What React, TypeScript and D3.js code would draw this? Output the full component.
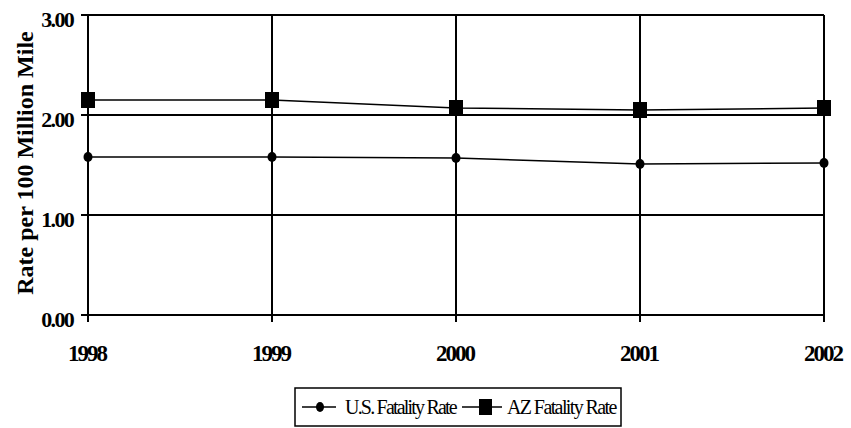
import React from 'react'
import * as d3 from 'd3'

const years = ['1998', '1999', '2000', '2001', '2002']
const usRate = [1.58, 1.58, 1.57, 1.51, 1.52]
const azRate = [2.15, 2.15, 2.07, 2.05, 2.07]
const yTicks = [0, 1, 2, 3]

const FONT = '"Liberation Serif", "Times New Roman", serif'

const App = () => {
  const x = d3.scalePoint<string>().domain(years).range([88, 824])
  const y = d3.scaleLinear().domain([0, 3]).range([315, 15])

  const line = d3
    .line<number>()
    .x((d, i) => x(years[i]) as number)
    .y(d => y(d))

  return (
    <svg
      width={851}
      height={428}
      style={{ position: 'absolute', left: 0, top: 0, background: '#fff' }}
      fontFamily={FONT}
    >
      {/* horizontal grid + ticks */}
      {yTicks.map(t => (
        <g key={t}>
          <line x1={81} x2={824} y1={y(t)} y2={y(t)} stroke="#000" strokeWidth={2} />
          <text
            x={73}
            y={y(t) + 11.5}
            textAnchor="end"
            fontSize={22}
            fontWeight="bold"
            letterSpacing={-1.7}
          >
            {d3.format('.2f')(t)}
          </text>
        </g>
      ))}

      {/* vertical grid + year labels */}
      {years.map(yr => (
        <g key={yr}>
          <line
            x1={x(yr)}
            x2={x(yr)}
            y1={y(3)}
            y2={y(0) + 7}
            stroke="#000"
            strokeWidth={2}
          />
          <text
            x={(x(yr) as number) - 1}
            y={361}
            textAnchor="middle"
            fontSize={23}
            fontWeight="bold"
            letterSpacing={-2}
          >
            {yr}
          </text>
        </g>
      ))}

      <text
        transform="translate(33,163) rotate(-90)"
        textAnchor="middle"
        fontSize={24}
        fontWeight="bold"
      >
        Rate per 100 Million Mile
      </text>

      {/* series */}
      <path d={line(usRate) || ''} fill="none" stroke="#000" strokeWidth={1.5} />
      <path d={line(azRate) || ''} fill="none" stroke="#000" strokeWidth={1.5} />
      {usRate.map((v, i) => (
        <ellipse key={'u' + i} cx={x(years[i])} cy={y(v)} rx={4.5} ry={5} fill="#000" />
      ))}
      {azRate.map((v, i) => (
        <rect
          key={'a' + i}
          x={(x(years[i]) as number) - 7}
          y={y(v) - 8}
          width={14}
          height={16}
          fill="#000"
        />
      ))}

      {/* legend */}
      <rect x={295} y={388} width={326} height={38} fill="none" stroke="#000" strokeWidth={1.5} />
      <line x1={302} x2={336} y1={407} y2={407} stroke="#000" strokeWidth={1.5} />
      <ellipse cx={320} cy={407} rx={4} ry={5} fill="#000" />
      <text x={345} y={414} fontSize={20} letterSpacing={-1.8}>
        U.S. Fatality Rate
      </text>
      <line x1={462} x2={502} y1={407} y2={407} stroke="#000" strokeWidth={1.5} />
      <rect x={479} y={399} width={13} height={16} fill="#000" />
      <text x={507} y={414} fontSize={20} letterSpacing={-1.6}>
        AZ Fatality Rate
      </text>
    </svg>
  )
}

export default App
